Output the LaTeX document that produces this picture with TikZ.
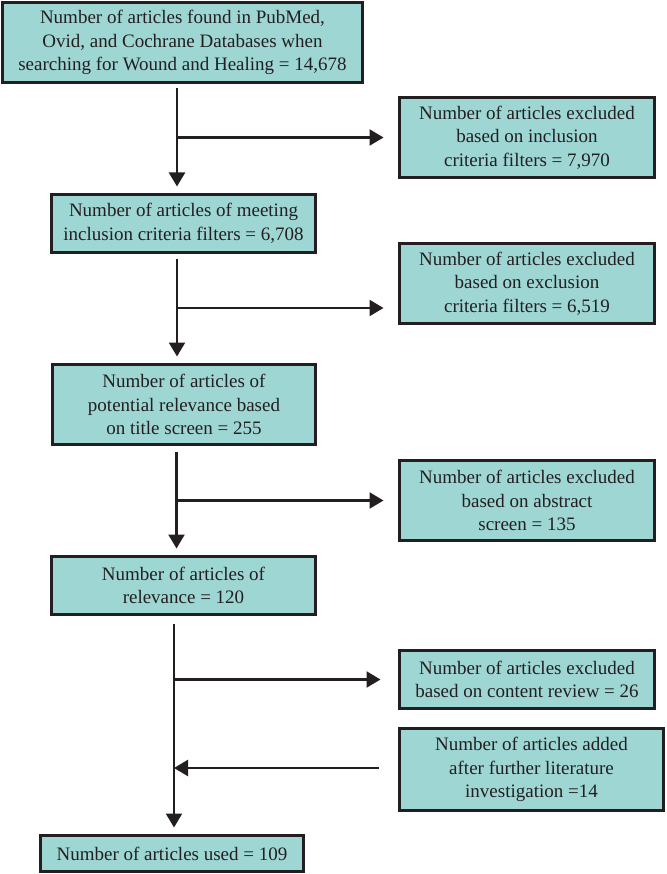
\documentclass[tikz,border=0pt]{standalone}
\usepackage{fontspec}
\setmainfont{Liberation Serif}
\usetikzlibrary{arrows.meta}
\definecolor{boxfill}{RGB}{158,214,212}
\definecolor{ink}{RGB}{35,31,32}
\tikzset{
  box/.style={draw=ink, line width=3pt, fill=boxfill, text=ink, align=center,
    inner sep=0pt, outer sep=0pt, font=\fontsize{19}{23.5}\selectfont},
  arr/.style={draw=ink, line width=2.4pt, -{Triangle[width=16pt,length=14pt]}},
  ln/.style={draw=ink, line width=2.4pt},
}
\begin{document}
\begin{tikzpicture}[x=1pt,y=-1pt]
\useasboundingbox[fill=white] (0,0) rectangle (666,874);
% main column
\node[box, minimum width=360pt, minimum height=80pt] (b1) at (182.5,42.5)
  {Number of articles found in PubMed,\\ Ovid, and Cochrane Databases when\\ searching for Wound and Healing = 14,678};
\node[box, minimum width=264pt, minimum height=58pt] (b2) at (183.5,223.5)
  {Number of articles of meeting\\ inclusion criteria filters = 6,708};
\node[box, minimum width=263pt, minimum height=80pt] (b3) at (184,404.5)
  {Number of articles of\\ potential relevance based\\ on title screen = 255};
\node[box, minimum width=264pt, minimum height=58pt] (b4) at (183.5,585.5)
  {Number of articles of\\ relevance = 120};
\node[box, minimum width=263pt, minimum height=36pt] (b5) at (172,853.5)
  {Number of articles used = 109};
% side boxes
\node[box, minimum width=255pt, minimum height=80pt] (r1) at (527,137.5)
  {Number of articles excluded\\ based on inclusion\\ criteria filters = 7,970};
\node[box, minimum width=255pt, minimum height=80pt] (r2) at (527,283.5)
  {Number of articles excluded\\ based on exclusion\\ criteria filters = 6,519};
\node[box, minimum width=255pt, minimum height=80pt] (r3) at (527,500.5)
  {Number of articles excluded\\ based on abstract\\ screen = 135};
\node[box, minimum width=255pt, minimum height=58pt] (r4) at (527,679.5)
  {Number of articles excluded\\ based on content review = 26};
\node[box, minimum width=264pt, minimum height=82pt] (r5) at (531.5,769.5)
  {Number of articles added\\ after further literature\\ investigation =14};
% spine coordinates
\coordinate (s1) at (177,0);
\coordinate (s3) at (176.5,0);
\coordinate (s4) at (174,0);
\coordinate (j1) at (177,137.5);
\coordinate (j2) at (177,308);
\coordinate (j3) at (176.5,500.5);
\coordinate (j4) at (174,679.5);
\coordinate (j5) at (174,768);
% vertical arrows
\draw[arr, shorten <=6pt, shorten >=8pt] (b1.south -| s1) -- (b2.north -| s1);
\draw[arr, shorten <=7pt, shorten >=8pt] (b2.south -| s1) -- (b3.north -| s1);
\draw[arr, shorten <=7pt, shorten >=8pt] (b3.south -| s3) -- (b4.north -| s3);
\draw[arr, shorten <=9pt, shorten >=8pt] (b4.south -| s4) -- (b5.north -| s4);
% side arrows
\draw[arr, shorten >=16pt] (j1) -- (r1.west);
\draw[arr, shorten >=16pt] (j2) -- (j2 -| r2.west);
\draw[arr, shorten >=16pt] (j3) -- (r3.west);
\draw[arr, shorten >=19pt] (j4) -- (r4.west);
\draw[arr, shorten <=21pt] (j5 -| r5.west) -- (j5);
\end{tikzpicture}
\end{document}
